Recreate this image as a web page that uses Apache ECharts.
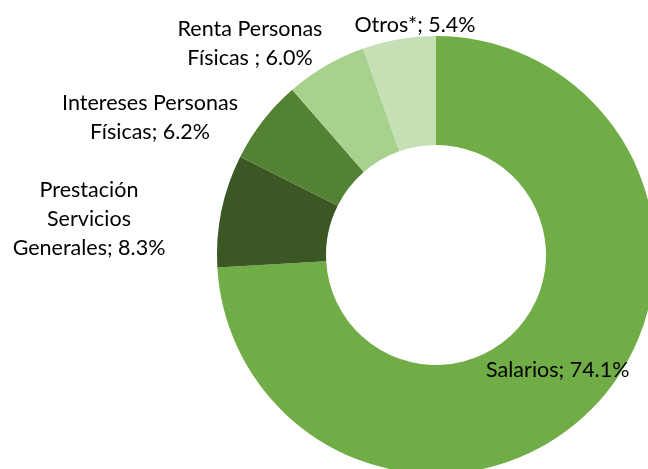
<!DOCTYPE html>
<html><head><meta charset="utf-8">
<script src="https://cdn.jsdelivr.net/npm/echarts@6/dist/echarts.min.js"></script>
<style>html,body{margin:0;padding:0;background:#fff}#c{width:648px;height:469px}</style>
</head><body><div id="c"></div>
<script>
const categories = ['Salarios', 'Prestación\nServicios\nGenerales', 'Intereses Personas\nFísicas', 'Renta Personas\nFísicas ', 'Otros*'];
const values = [74.1, 8.3, 6.2, 6.0, 5.4];
const colors = ['#70AD47', '#3A5724', '#548235', '#A9D18E', '#C5E0B4'];
// label anchor points (block centers) for outside labels
const labelPos = [null, [89, 219], [150, 117.5], [250, 43.5], [415, 25]];

const chart = echarts.init(document.getElementById('c'), null, {renderer: 'canvas'});
chart.setOption({
  animation: false,
  series: [{
    type: 'pie',
    center: [436, 255],
    radius: [110, 219],
    startAngle: 90,
    clockwise: true,
    avoidLabelOverlap: false,
    data: categories.map((n, i) => ({
      name: n, value: values[i],
      itemStyle: {color: colors[i]},
      label: {position: i === 0 ? 'inside' : 'outside'},
      labelLine: {show: false}
    })),
    label: {
      formatter: p => p.name + '; ' + p.value.toFixed(1) + '%',
      fontFamily: 'Lato',
      fontSize: 21.5,
      lineHeight: 29,
      color: '#000',
      align: 'center'
    },
    labelLayout: p => {
      const pos = labelPos[p.dataIndex];
      if (!pos) return {};
      return {x: pos[0], y: pos[1], align: 'center', verticalAlign: 'middle'};
    }
  }]
});
</script></body></html>
